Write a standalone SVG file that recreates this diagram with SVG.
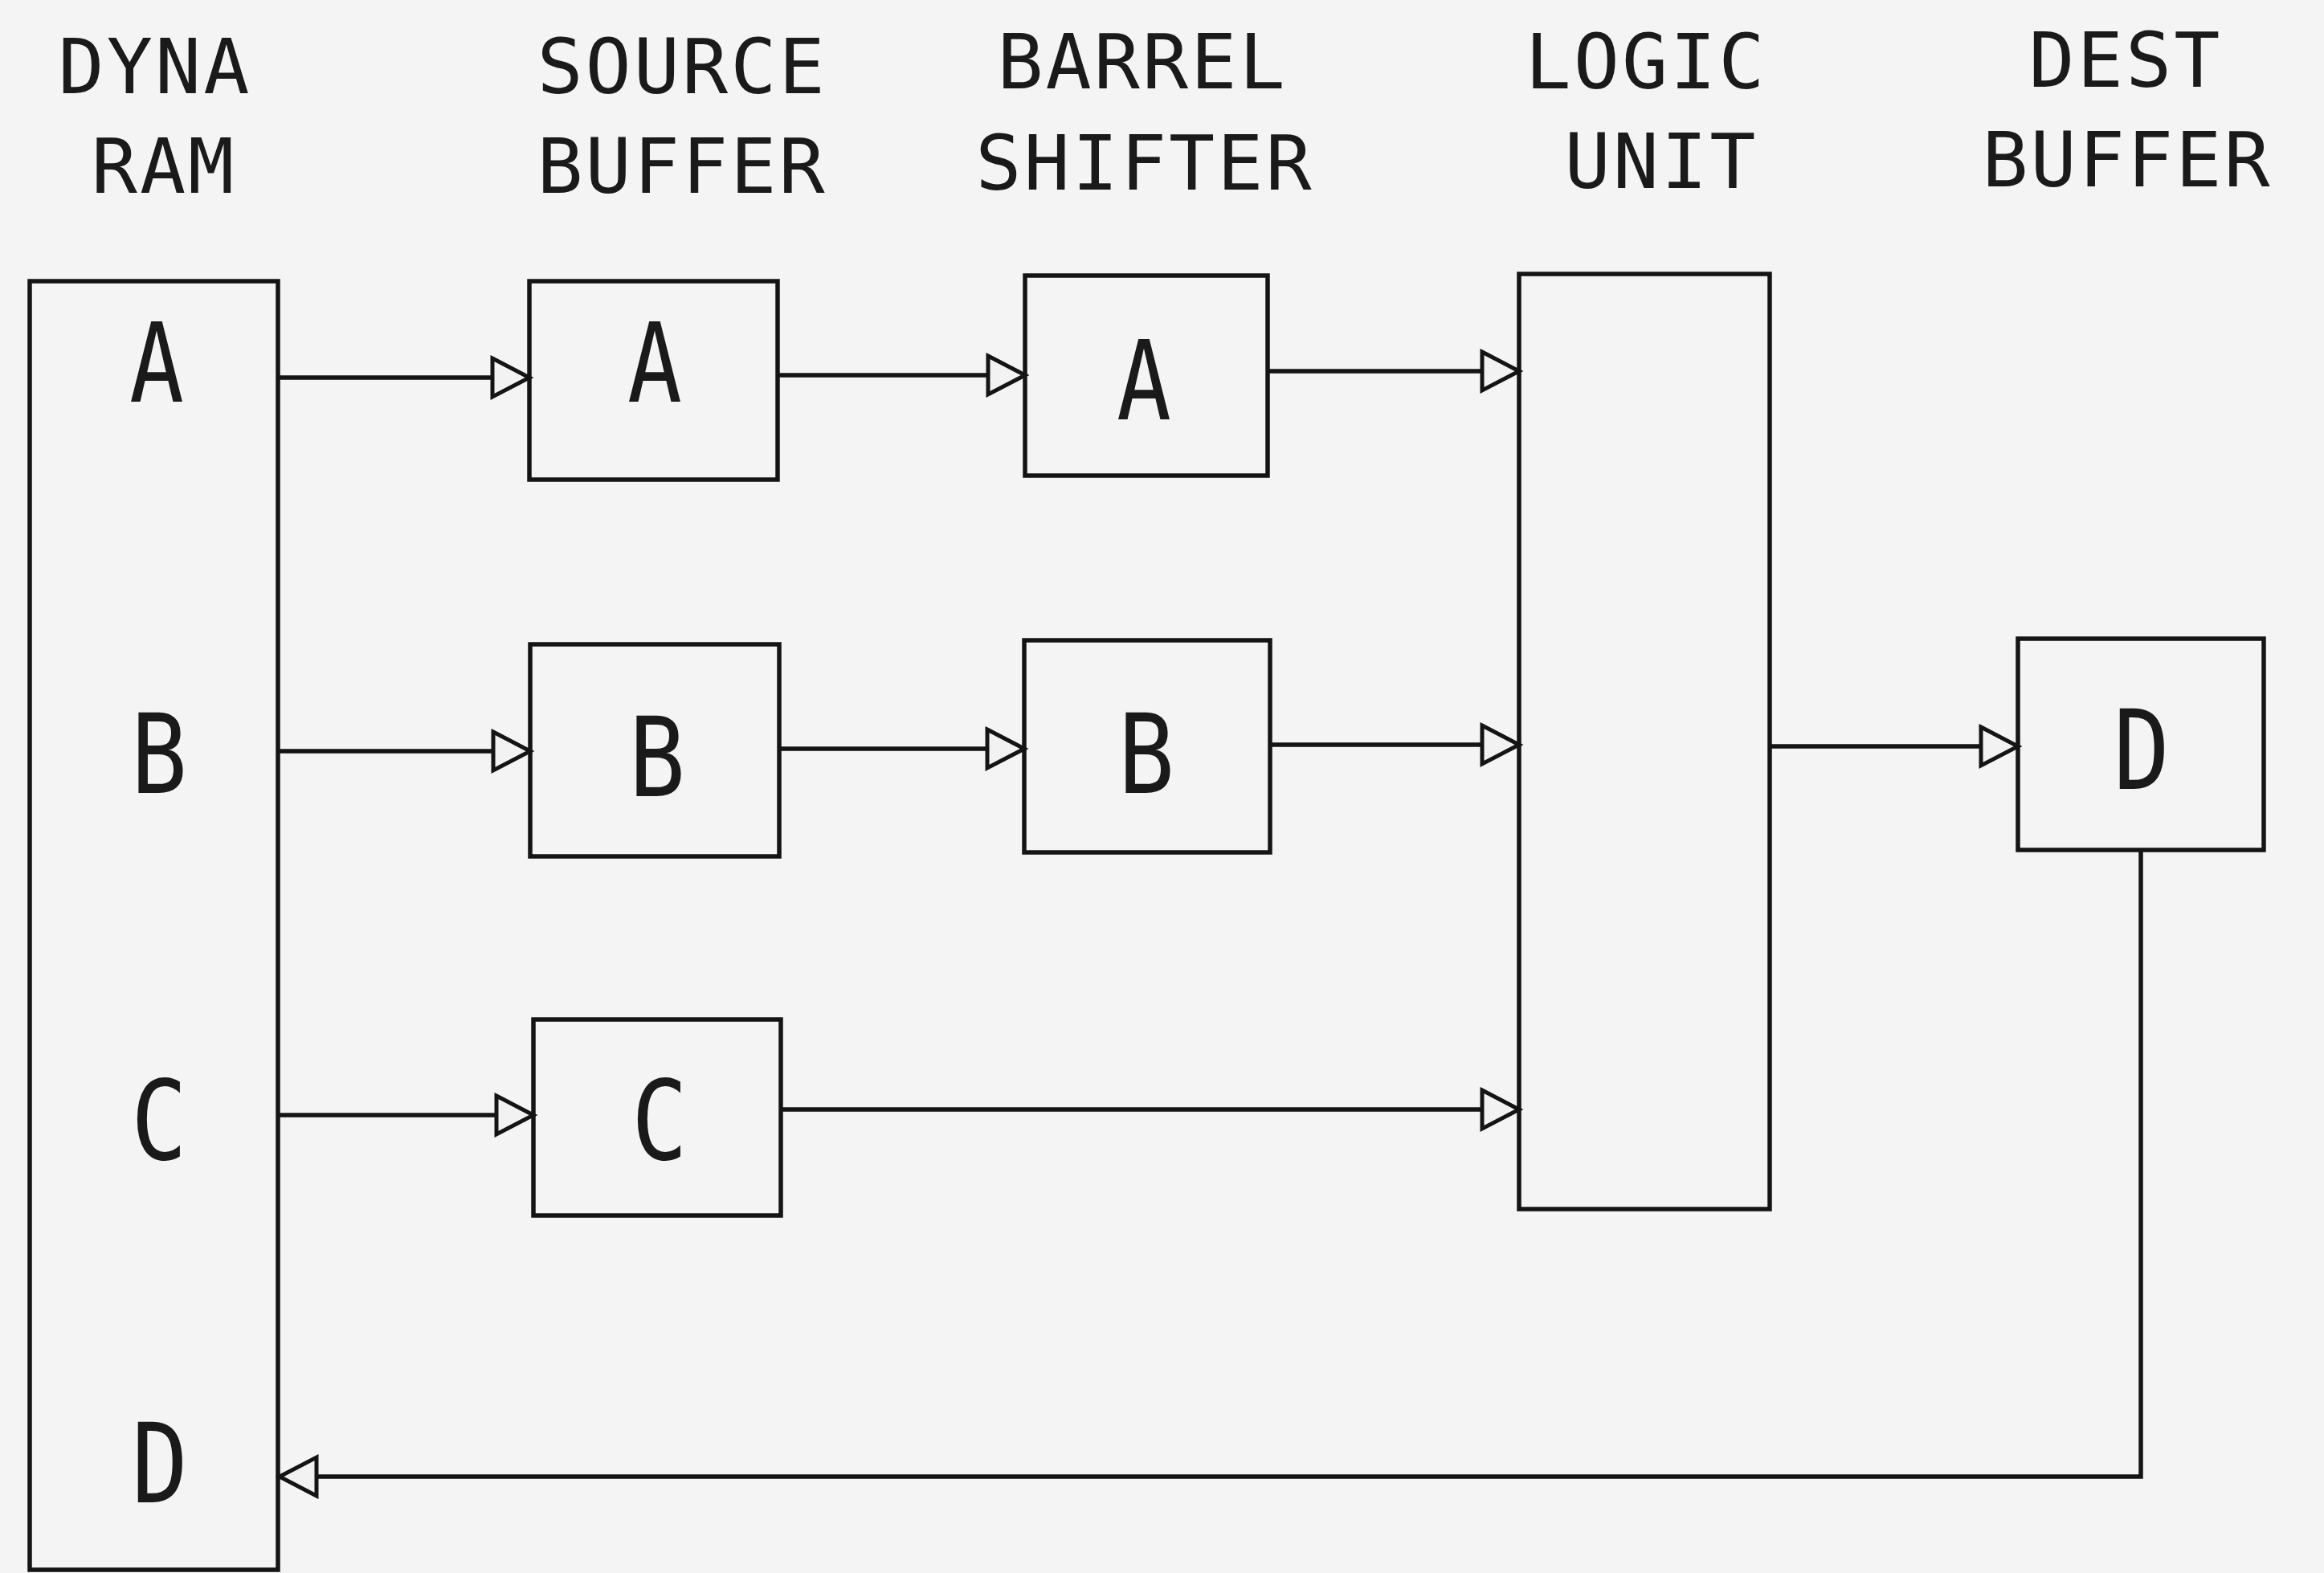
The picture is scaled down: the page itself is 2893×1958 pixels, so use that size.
<svg xmlns="http://www.w3.org/2000/svg" width="2893" height="1958" viewBox="0 0 2893 1958">
<style>
.box{fill:none;stroke:#141414;stroke-width:5.5}
.wire{fill:none;stroke:#141414;stroke-width:5.5}
.hdr{font-family:"DejaVu Sans Mono","Liberation Mono",monospace;font-size:95px;fill:#1a1a1a;text-anchor:middle;letter-spacing:3px}
.big{font-family:"DejaVu Sans Mono","Liberation Mono",monospace;font-size:137px;fill:#1a1a1a;text-anchor:middle}
</style>
<defs>
<marker id="arr" markerUnits="userSpaceOnUse" markerWidth="56" markerHeight="60" viewBox="0 0 56 60" refX="50" refY="30" orient="auto">
<path d="M4,6 L50,30 L4,54 Z" fill="#f2f2f2" stroke="#141414" stroke-width="5" stroke-linejoin="miter"/>
</marker>
</defs>
<rect width="2893" height="1958" fill="#f4f4f4"/>
<g id="headers">
<text class="hdr" x="193" y="116">DYNA</text>
<text class="hdr" x="204" y="240">RAM</text>
<text class="hdr" x="849" y="116">SOURCE</text>
<text class="hdr" x="849" y="240">BUFFER</text>
<text class="hdr" x="1422" y="110">BARREL</text>
<text class="hdr" x="1425" y="236">SHIFTER</text>
<text class="hdr" x="2049" y="110">LOGIC</text>
<text class="hdr" x="2068" y="234">UNIT</text>
<text class="hdr" x="2646" y="108">DEST</text>
<text class="hdr" x="2648" y="232">BUFFER</text>
</g>
<g id="dyna-ram">
<rect class="box" x="37" y="350" width="309" height="1604"/>
<text class="big" x="195" y="500" textLength="68" lengthAdjust="spacingAndGlyphs">A</text>
<text class="big" x="198" y="987" textLength="70" lengthAdjust="spacingAndGlyphs">B</text>
<text class="big" x="198" y="1443" textLength="70" lengthAdjust="spacingAndGlyphs">C</text>
<text class="big" x="199" y="1870" textLength="70" lengthAdjust="spacingAndGlyphs">D</text>
</g>
<g id="source-a">
<rect class="box" x="659" y="350" width="309" height="247"/>
<text class="big" x="815" y="500" textLength="68" lengthAdjust="spacingAndGlyphs">A</text>
</g>
<g id="source-b">
<rect class="box" x="660" y="802" width="310" height="264"/>
<text class="big" x="818" y="991" textLength="70" lengthAdjust="spacingAndGlyphs">B</text>
</g>
<g id="source-c">
<rect class="box" x="664" y="1269" width="308" height="244"/>
<text class="big" x="821" y="1443" textLength="70" lengthAdjust="spacingAndGlyphs">C</text>
</g>
<g id="barrel-a">
<rect class="box" x="1276" y="343" width="302" height="249"/>
<text class="big" x="1424" y="522" textLength="68" lengthAdjust="spacingAndGlyphs">A</text>
</g>
<g id="barrel-b">
<rect class="box" x="1275" y="797" width="306" height="264"/>
<text class="big" x="1427" y="987" textLength="70" lengthAdjust="spacingAndGlyphs">B</text>
</g>
<g id="logic-unit">
<rect class="box" x="1891" y="341" width="312" height="1164"/>
</g>
<g id="dest-d">
<rect class="box" x="2512" y="795" width="306" height="263"/>
<text class="big" x="2666" y="982" textLength="70" lengthAdjust="spacingAndGlyphs">D</text>
</g>
<g id="connectors">
<line class="wire" x1="346" y1="470" x2="659" y2="470" marker-end="url(#arr)"/>
<line class="wire" x1="968" y1="467" x2="1276" y2="467" marker-end="url(#arr)"/>
<line class="wire" x1="1578" y1="462" x2="1891" y2="462" marker-end="url(#arr)"/>
<line class="wire" x1="346" y1="935" x2="660" y2="935" marker-end="url(#arr)"/>
<line class="wire" x1="970" y1="932" x2="1275" y2="932" marker-end="url(#arr)"/>
<line class="wire" x1="1581" y1="927" x2="1891" y2="927" marker-end="url(#arr)"/>
<line class="wire" x1="2203" y1="929" x2="2512" y2="929" marker-end="url(#arr)"/>
<line class="wire" x1="346" y1="1388" x2="664" y2="1388" marker-end="url(#arr)"/>
<line class="wire" x1="972" y1="1381" x2="1891" y2="1381" marker-end="url(#arr)"/>
<path class="wire" d="M2665,1058 V1838 H348" marker-end="url(#arr)"/>
</g>
</svg>
